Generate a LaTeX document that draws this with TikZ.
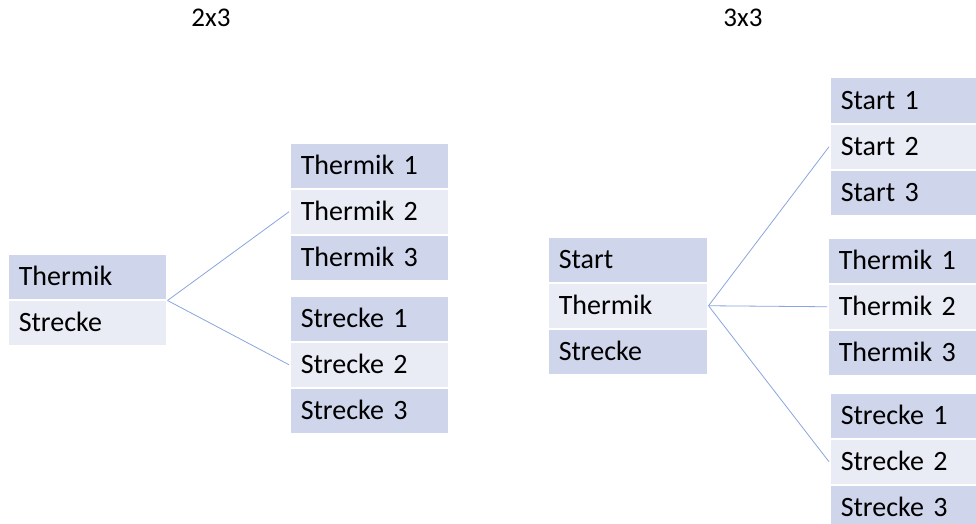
\documentclass[tikz,border=0pt]{standalone}
\usepackage{fontspec}
\setmainfont[WordSpace=0.6]{Carlito}
\definecolor{rowdark}{HTML}{CFD5EA}
\definecolor{rowlight}{HTML}{E9EBF5}
\definecolor{linkblue}{HTML}{8AA6DC}
\begin{document}
\begin{tikzpicture}[x=1pt,y=-1pt,
  cell/.style={rectangle, anchor=north west, inner xsep=11pt, inner ysep=0pt,
    minimum height=46pt, text height=18pt, text depth=0pt,
    draw=white, line width=1.5pt, font=\fontsize{28}{32}\selectfont},
  dark/.style={cell, fill=rowdark},
  light/.style={cell, fill=rowlight},
  link/.style={draw=linkblue, line width=0.8pt},
  title/.style={anchor=base, font=\fontsize{27}{32}\selectfont}]
\useasboundingbox (0,0) rectangle (976,524);
\fill[white] (0,0) rectangle (976,524);

% titles
\node[title] (t23) at (211,27) {2x3};
\node[title] (t33) at (743,27) {3x3};

% ---- 2x3 ----
\begin{scope}[every node/.append style={text width=137pt}]
\node[dark]  (l1) at (7,253) {Thermik};
\node[light] (l2) at (7,299) {Strecke};

\node[dark]  (lt1) at (289,142) {Thermik 1};
\node[light] (lt2) at (289,188) {Thermik 2};
\node[dark]  (lt3) at (289,234) {Thermik 3};

\node[dark]  (ls1) at (289,295) {Strecke 1};
\node[light] (ls2) at (289,341) {Strecke 2};
\node[dark]  (ls3) at (289,387) {Strecke 3};
\end{scope}

\draw[link] (l1.south east) -- (lt2.west);
\draw[link] (l1.south east) -- (ls2.west);

% ---- 3x3 ----
\begin{scope}[every node/.append style={text width=138pt}]
\node[dark]  (m1) at (547,236) {Start};
\node[light] (m2) at (547,282) {Thermik};
\node[dark]  (m3) at (547,328) {Strecke};

\node[dark]  (a1) at (829,77)  {Start 1};
\node[light] (a2) at (829,123) {Start 2};
\node[dark]  (a3) at (829,169) {Start 3};

\node[dark]  (b1) at (827,237) {Thermik 1};
\node[light] (b2) at (827,283) {Thermik 2};
\node[dark]  (b3) at (827,329) {Thermik 3};

\node[dark]  (c1) at (829,392) {Strecke 1};
\node[light] (c2) at (829,438) {Strecke 2};
\node[dark]  (c3) at (829,484) {Strecke 3};
\end{scope}

\draw[link] (m2.east) -- (a2.west);
\draw[link] (m2.east) -- (b2.west);
\draw[link] (m2.east) -- (c2.west);
\end{tikzpicture}
\end{document}
